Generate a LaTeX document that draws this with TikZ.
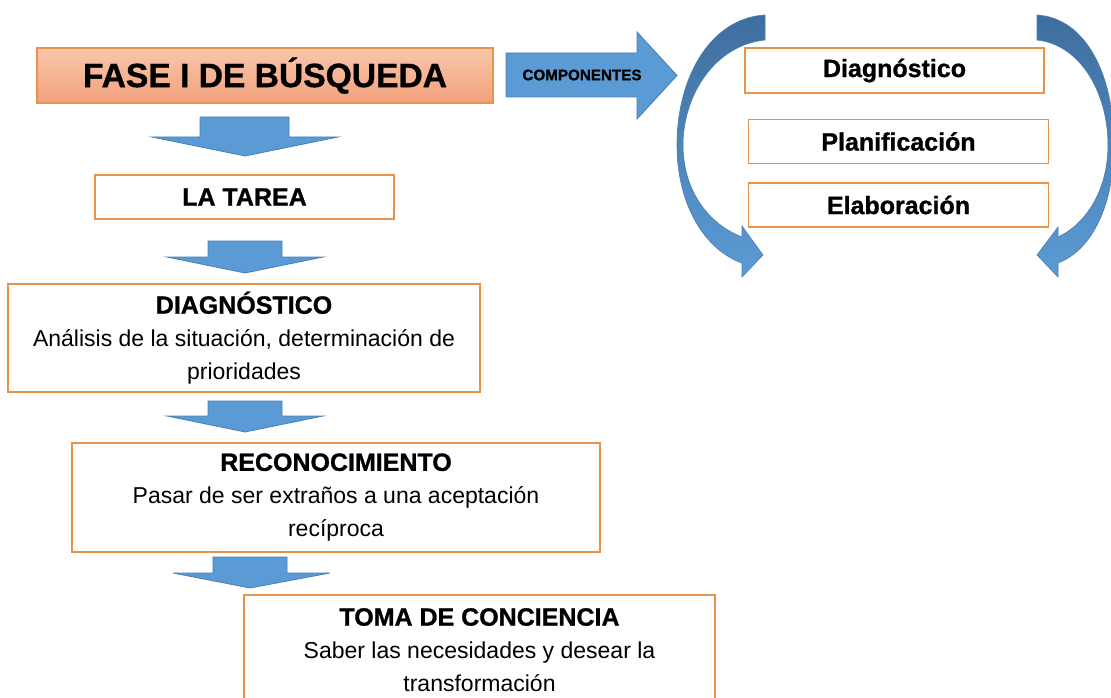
\documentclass[tikz,border=0pt]{standalone}
\usepackage{fontspec}
\setmainfont{Liberation Sans}
\newfontfamily\heavy[FakeBold=1]{Liberation Sans Bold}
\definecolor{boxorange}{HTML}{E8934A}
\definecolor{arrowblue}{HTML}{5B9BD5}
\definecolor{arrowedge}{HTML}{4A7EB5}
\definecolor{curvetop}{HTML}{3F6E9E}
\definecolor{curvebot}{HTML}{5C9BD6}
\definecolor{fasetop}{HTML}{F9C7AB}
\definecolor{fasebot}{HTML}{F2A07C}
\newcommand\ttlfont{\heavy\fontsize{25}{33}\selectfont}
\newcommand\bdyfont{\fontsize{23}{33}\selectfont}
\tikzset{
  box/.style={draw=boxorange, line width=1.4pt, fill=white, inner sep=0pt, align=center, text=black, font=\bdyfont},
  blk/.style={fill=arrowblue, draw=arrowedge, line width=0.8pt, line join=miter},
  curv/.style={top color=curvetop, bottom color=curvebot, draw=arrowedge, line width=0.6pt},
}
\begin{document}
\begin{tikzpicture}[x=1pt,y=-1pt]
\useasboundingbox (0,0) rectangle (1111,698);
\fill[white] (0,0) rectangle (1111,698);

% curved arrows
\path[curv] (765,15) .. controls (712,18) and (677,75) .. (677,145)
  .. controls (677,205) and (705,250) .. (742,263) -- (742,277) -- (763,255) -- (742,226) -- (742,237)
  .. controls (708,224) and (683,190) .. (683,145)
  .. controls (683,95) and (715,45) .. (765,40) -- cycle;
\path[curv] (1037,15) .. controls (1086,18) and (1114,75) .. (1114,145)
  .. controls (1114,205) and (1092,250) .. (1058,263) -- (1058,277) -- (1037,255) -- (1058,227) -- (1058,237)
  .. controls (1086,224) and (1108,190) .. (1108,145)
  .. controls (1108,95) and (1082,45) .. (1037,40) -- cycle;

% block arrows
\path[blk] (506,53) -- (637,53) -- (637,32) -- (677,75.5) -- (637,119) -- (637,97) -- (506,97) -- cycle;
\path[blk] (200,117) -- (289,117) -- (289,137) -- (338,137) -- (245,156) -- (152,137) -- (200,137) -- cycle;
\path[blk] (208,241) -- (282,241) -- (282,257) -- (323,257) -- (245,273) -- (167,257) -- (208,257) -- cycle;
\path[blk] (208,401) -- (282,401) -- (282,416) -- (323,416) -- (245,432) -- (167,416) -- (208,416) -- cycle;
\path[blk] (213,557) -- (287,557) -- (287,573) -- (330,573) -- (250,588) -- (173,573) -- (213,573) -- cycle;

\node[inner sep=0pt] (comp) at (582,75) {\heavy\fontsize{15.2}{18}\selectfont COMPONENTES};

% boxes
\node[box, fill=none, top color=fasetop, bottom color=fasebot, minimum width=456pt, minimum height=55pt] (fase) at (265,75.5)
  {\heavy\fontsize{33.6}{40}\selectfont FASE I DE BÚSQUEDA};
\node[box, minimum width=299pt, minimum height=44pt] (tarea) at (244.5,197) {\ttlfont LA TAREA};
\node[box, minimum width=472pt, minimum height=108pt] (diag) at (244,338)
  {\ttlfont DIAGNÓSTICO\\\bdyfont Análisis de la situación, determinación de\\\bdyfont prioridades};
\node[box, minimum width=528pt, minimum height=109pt] (reco) at (336,497.5)
  {\ttlfont RECONOCIMIENTO\\\bdyfont Pasar de ser extraños a una aceptación\\\bdyfont recíproca};
\node[box, minimum width=471pt, minimum height=110pt] (toma) at (479.5,650)
  {\ttlfont TOMA DE CONCIENCIA\\\bdyfont Saber las necesidades y desear la\\\bdyfont transformación};

\node[box, minimum width=299pt, minimum height=45pt] (rd) at (894.5,70.5) {\ttlfont Diagnóstico};
\node[box, minimum width=300pt, minimum height=44pt] (rp) at (898.5,141.5) {\ttlfont Planificación};
\node[box, minimum width=300pt, minimum height=44pt] (re) at (898.5,205) {\ttlfont Elaboración};
\end{tikzpicture}
\end{document}
